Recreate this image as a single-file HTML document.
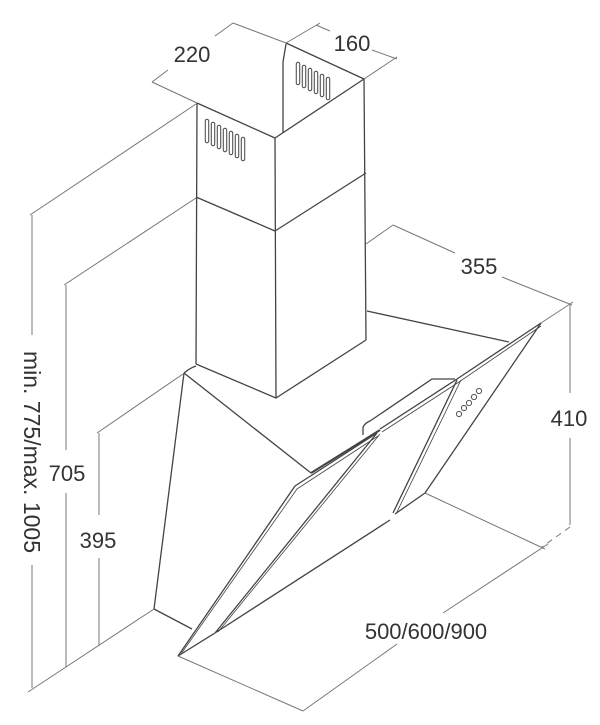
<!DOCTYPE html>
<html><head><meta charset="utf-8"><style>
html,body{margin:0;padding:0;background:#fff;}
svg{display:block}
text{font-family:"Liberation Sans",sans-serif;font-size:22px;fill:#333;}
</style></head><body>
<svg width="600" height="725" viewBox="0 0 600 725" xmlns="http://www.w3.org/2000/svg">
<g stroke="#777" stroke-width="1" fill="none">
<line x1="152" y1="82" x2="197" y2="103"/>
<line x1="233" y1="23" x2="286" y2="43"/>
<line x1="152" y1="82" x2="168" y2="70"/>
<line x1="215" y1="36" x2="233" y2="23"/>
<line x1="286" y1="43" x2="320" y2="23"/>
<line x1="364" y1="79" x2="397" y2="57"/>
<line x1="316" y1="25" x2="330" y2="31"/>
<line x1="372" y1="50" x2="397" y2="59"/>
<line x1="366" y1="244" x2="393" y2="225"/>
<line x1="393" y1="225" x2="455" y2="253"/>
<line x1="502" y1="277" x2="572" y2="305"/>
<line x1="541" y1="323" x2="573" y2="302"/>
<line x1="570" y1="305" x2="570" y2="393"/>
<line x1="570" y1="438" x2="570" y2="525"/>
<line x1="570" y1="527" x2="542" y2="547" stroke-dasharray="6,5"/>
<line x1="425" y1="493" x2="545" y2="549"/>
<line x1="178" y1="656" x2="303" y2="711"/>
<line x1="303" y1="711" x2="397" y2="644"/>
<line x1="443" y1="613" x2="548" y2="544"/>
<line x1="30" y1="215" x2="196" y2="104"/>
<line x1="32" y1="215" x2="32" y2="335"/>
<line x1="32" y1="565" x2="32" y2="688"/>
<line x1="64" y1="285" x2="196" y2="198"/>
<line x1="66" y1="285" x2="66" y2="450"/>
<line x1="66" y1="493" x2="66" y2="667"/>
<line x1="97" y1="433" x2="183" y2="374"/>
<line x1="99" y1="433" x2="99" y2="515"/>
<line x1="99" y1="558" x2="99" y2="645"/>
<line x1="28" y1="692" x2="154" y2="609"/>
</g>
<g stroke="#444" stroke-width="1.3" fill="none" stroke-linejoin="round">
<polyline points="197,103 275,138 364,79 286,43"/>
<line x1="286" y1="44" x2="283" y2="62"/>
<line x1="283" y1="62" x2="283" y2="133"/>
<line x1="197" y1="103" x2="196" y2="364"/>
<line x1="275" y1="138" x2="276" y2="398"/>
<line x1="364" y1="79" x2="366" y2="340"/>
<polyline points="196,197 275,231 366,173"/>
<polyline points="196,364 276,398 366,340"/>
<line x1="367" y1="311" x2="509" y2="342"/>
<path d="M196,366 Q190,368 184,373"/>
<line x1="184" y1="373" x2="154" y2="609"/>
<line x1="154" y1="609" x2="192" y2="629"/>
<line x1="184" y1="373" x2="311" y2="473"/>
<polyline points="178,656 295,486 377,433"/>
<polyline points="181,654 297,489 378,436" stroke-width="0.8"/>
<line x1="178" y1="656" x2="215" y2="633"/>
<line x1="377" y1="433" x2="215" y2="633"/>
<line x1="380" y1="434" x2="218" y2="632" stroke-width="0.8"/>
<line x1="215" y1="633" x2="390" y2="520"/>
<polyline points="380,429 457,379 541,323"/>
<polyline points="382,432 459,382 541,326" stroke-width="0.8"/>
<path d="M363,435 L363,427 Q365,423 370,421 L432,379 L455,379"/>
<line x1="457" y1="380" x2="393" y2="513"/>
<line x1="461" y1="380" x2="396" y2="514" stroke-width="0.8"/>
<line x1="541" y1="323" x2="425" y2="493"/>
<line x1="425" y1="493" x2="395" y2="514"/>
<line x1="311" y1="473" x2="380" y2="430" stroke-width="2"/>
</g>
<g stroke="#555" stroke-width="1" fill="#fff">
<circle cx="459" cy="414" r="2.6"/>
<circle cx="464" cy="408" r="2.6"/>
<circle cx="469" cy="403" r="2.6"/>
<circle cx="474" cy="397" r="2.6"/>
<circle cx="479" cy="391" r="2.6"/>
</g>
<g stroke="#555" stroke-width="1.1" fill="none">
<path d="M207,121 v20 M213,124 v20 M219,127 v20 M225,130 v20 M231,133 v20 M237,136 v20 M243,139 v20" stroke-width="4.5" stroke-linecap="round"/>
<path d="M207,121 v20 M213,124 v20 M219,127 v20 M225,130 v20 M231,133 v20 M237,136 v20 M243,139 v20" stroke="#fff" stroke-width="2.3" stroke-linecap="round"/>
<path d="M298,64 v19 M304,67 v19 M310,70 v19 M316,73 v19 M322,76 v19 M328,79 v19" stroke-width="4.5" stroke-linecap="round"/>
<path d="M298,64 v19 M304,67 v19 M310,70 v19 M316,73 v19 M322,76 v19 M328,79 v19" stroke="#fff" stroke-width="2.3" stroke-linecap="round"/>
</g>
<text x="192" y="62" text-anchor="middle">220</text>
<text x="352" y="51" text-anchor="middle">160</text>
<text x="479" y="274" text-anchor="middle">355</text>
<text x="569" y="426" text-anchor="middle">410</text>
<text x="426" y="639" text-anchor="middle">500/600/900</text>
<text x="67" y="481" text-anchor="middle">705</text>
<text x="98" y="548" text-anchor="middle">395</text>
<text x="0" y="0" text-anchor="middle" style="font-size:23px" transform="translate(24,452) rotate(90)">min. 775/max. 1005</text>
</svg>
</body></html>
